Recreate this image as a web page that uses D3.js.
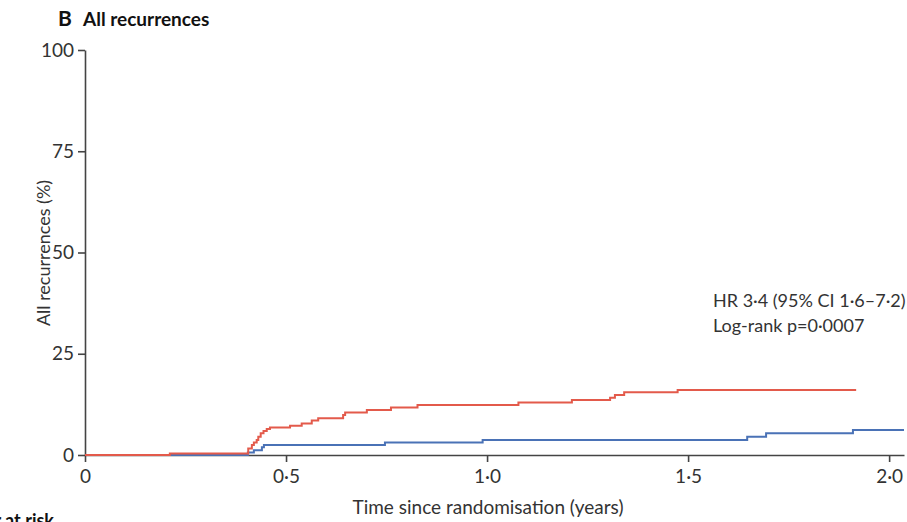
<!DOCTYPE html>
<html>
<head>
<meta charset="utf-8">
<script src="https://cdn.jsdelivr.net/npm/d3@7"></script>
<style>
  html, body { margin: 0; padding: 0; background: #fff; }
  svg { display: block; }
  text { font-family: Lato, "Open Sans", sans-serif; fill: #222; }
</style>
</head>
<body>
<svg id="chart" width="907" height="522"></svg>
<script>
// ---- data ----
const xTicks = [0, 0.5, 1.0, 1.5, 2.0];
const xTickLabels = ["0", "0·5", "1·0", "1·5", "2·0"];
const yTicks = [0, 25, 50, 75, 100];
const yTickLabels = ["0", "25", "50", "75", "100"];

// red group: step times (years) and cumulative recurrence (%)
const redTimes  = [0, 0.211, 0.406, 0.415, 0.420, 0.427, 0.431, 0.437, 0.444, 0.452, 0.460, 0.510, 0.539, 0.564, 0.580, 0.642, 0.647, 0.701, 0.761, 0.827, 1.078, 1.211, 1.306, 1.318, 1.341, 1.474, 1.918];
const redValues = [0, 0.4,   1.6,   2.5,   3.1,   3.7,   4.5,   5.4,   5.9,   6.4,   6.8,   7.2,   7.8,   8.5,   9.1,   9.9,   10.5,  11.1,  11.7,  12.35, 12.95, 13.6,  14.15, 14.8,  15.5,  16.05, 16.05];

// blue group
const blueTimes  = [0, 0.405, 0.420, 0.440, 0.445, 0.746, 0.989, 1.647, 1.694, 1.910, 2.037];
const blueValues = [0, 0.6,   1.2,   1.9,   2.5,   3.1,   3.7,   4.5,   5.35,  6.15,  6.15];

const titleLetter = "B";
const titleText = "All recurrences";
const xLabel = "Time since randomisation (years)";
const yLabel = "All recurrences (%)";
const annotation = ["HR 3·4 (95% CI 1·6–7·2)", "Log-rank p=0·0007"];
const riskHeading = "Number at risk";

// ---- drawing ----
const svg = d3.select("#chart");
const x = d3.scaleLinear().domain([0, 2.037]).range([85, 904]);
const y = d3.scaleLinear().domain([0, 100]).range([455, 50]);
const axisColor = "#444";
const textColor = "#333";

// curves
const line = d3.line().x(d => x(d[0])).y(d => y(d[1])).curve(d3.curveStepAfter);
const blueData = blueTimes.map((t, i) => [t, blueValues[i]]);
const redData = redTimes.map((t, i) => [t, redValues[i]]);

// axes
const yAxis = d3.axisLeft(y).tickValues(yTicks).tickFormat((d, i) => yTickLabels[i]).tickSize(7).tickSizeOuter(0).tickPadding(4);
const gy = svg.append("g").attr("transform", "translate(85,0)").call(yAxis);
gy.select(".domain").attr("stroke", axisColor).attr("stroke-width", 1.6);
gy.selectAll(".tick line").attr("stroke", axisColor).attr("stroke-width", 1.6);
gy.selectAll(".tick text").style("font-size", "19px").style("fill", textColor).attr("font-family", "Lato, sans-serif");

const xAxis = d3.axisBottom(x).tickValues(xTicks).tickFormat((d, i) => xTickLabels[i]).tickSize(7).tickSizeOuter(0).tickPadding(8);
const gx = svg.append("g").attr("transform", "translate(0,455)").call(xAxis);
gx.select(".domain").attr("stroke", axisColor).attr("stroke-width", 1.6);
gx.selectAll(".tick line").attr("stroke", axisColor).attr("stroke-width", 1.6);
gx.selectAll(".tick text").style("font-size", "19px").style("fill", textColor).attr("font-family", "Lato, sans-serif");

svg.append("path").datum(blueData).attr("d", line)
  .attr("fill", "none").attr("stroke", "#4a72b6").attr("stroke-width", 2);
svg.append("path").datum(redData).attr("d", line)
  .attr("fill", "none").attr("stroke", "#e35a4b").attr("stroke-width", 2);

// title
svg.append("text").attr("x", 58).attr("y", 26).text(titleLetter)
  .style("font-size", "21px").style("font-weight", "bold").style("fill", "#111");
svg.append("text").attr("x", 83).attr("y", 26).text(titleText)
  .style("font-size", "19px").style("font-weight", "bold").style("fill", "#111");

// axis labels
svg.append("text").attr("x", 488).attr("y", 514).attr("text-anchor", "middle").text(xLabel)
  .style("font-size", "19px").style("fill", textColor);
svg.append("text").attr("transform", "translate(50,253) rotate(-90)").attr("text-anchor", "middle").text(yLabel)
  .style("font-size", "18px").style("fill", textColor);

// annotation
annotation.forEach((t, i) => {
  svg.append("text").attr("x", 713).attr("y", 307 + i * 25).text(t)
    .style("font-size", "18px").style("fill", textColor);
});

// number at risk heading (cut off at bottom-left, as in the reference)
svg.append("text").attr("x", 54).attr("y", 527).attr("text-anchor", "end").text(riskHeading)
  .style("font-size", "18px").style("font-weight", "bold").style("fill", "#111");
</script>
</body>
</html>
